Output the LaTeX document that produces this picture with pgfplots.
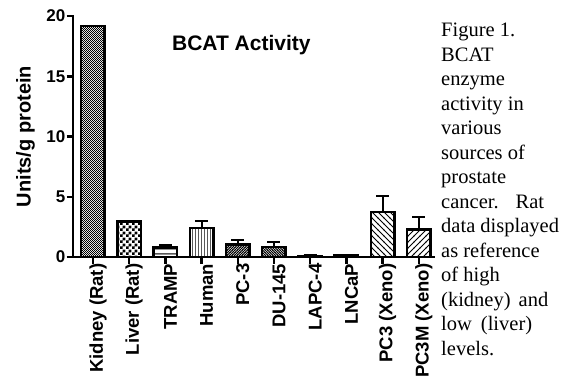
\documentclass[border=0pt]{standalone}
\usepackage{fontspec}
\setmainfont{Liberation Serif}
\newfontfamily\arial{Liberation Sans}
\usepackage{pgfplots}
\pgfplotsset{compat=1.18}
\usetikzlibrary{patterns}

\pgfdeclarepatternformonly{finechecker}{\pgfpointorigin}{\pgfpoint{2.4pt}{2.4pt}}{\pgfpoint{2.4pt}{2.4pt}}{%
  \pgfpathrectangle{\pgfpointorigin}{\pgfpoint{1.2pt}{1.2pt}}%
  \pgfpathrectangle{\pgfpoint{1.2pt}{1.2pt}}{\pgfpoint{1.2pt}{1.2pt}}%
  \pgfusepath{fill}}
\pgfdeclarepatternformonly{bigchecker}{\pgfpointorigin}{\pgfpoint{6pt}{6pt}}{\pgfpoint{6pt}{6pt}}{%
  \pgfpathrectangle{\pgfpointorigin}{\pgfpoint{3pt}{3pt}}%
  \pgfpathrectangle{\pgfpoint{3pt}{3pt}}{\pgfpoint{3pt}{3pt}}%
  \pgfusepath{fill}}
\pgfdeclarepatternformonly{hlineswide}{\pgfpointorigin}{\pgfpoint{1pt}{5pt}}{\pgfpoint{1pt}{5pt}}{%
  \pgfpathrectangle{\pgfpoint{0pt}{1.5pt}}{\pgfpoint{1pt}{1.6pt}}%
  \pgfusepath{fill}}
\pgfdeclarepatternformonly{vlinesfine}{\pgfpointorigin}{\pgfpoint{3pt}{1pt}}{\pgfpoint{3pt}{1pt}}{%
  \pgfpathrectangle{\pgfpointorigin}{\pgfpoint{1pt}{1pt}}%
  \pgfusepath{fill}}
\pgfdeclarepatternformonly{nefine}{\pgfpoint{-1pt}{-1pt}}{\pgfpoint{3.5pt}{3.5pt}}{\pgfpoint{2.5pt}{2.5pt}}{%
  \pgfsetlinewidth{0.8pt}%
  \pgfpathmoveto{\pgfpoint{-0.5pt}{-0.5pt}}\pgfpathlineto{\pgfpoint{3pt}{3pt}}%
  \pgfusepath{stroke}}
\pgfdeclarepatternformonly{nwfine}{\pgfpoint{-1pt}{-1pt}}{\pgfpoint{3.5pt}{3.5pt}}{\pgfpoint{2.5pt}{2.5pt}}{%
  \pgfsetlinewidth{0.8pt}%
  \pgfpathmoveto{\pgfpoint{-0.5pt}{3pt}}\pgfpathlineto{\pgfpoint{3pt}{-0.5pt}}%
  \pgfusepath{stroke}}
\pgfdeclarepatternformonly{newide}{\pgfpoint{-1pt}{-1pt}}{\pgfpoint{7pt}{7pt}}{\pgfpoint{6pt}{6pt}}{%
  \pgfsetlinewidth{1pt}%
  \pgfpathmoveto{\pgfpoint{-0.5pt}{-0.5pt}}\pgfpathlineto{\pgfpoint{6.5pt}{6.5pt}}%
  \pgfusepath{stroke}}
\pgfdeclarepatternformonly{nwwide}{\pgfpoint{-1pt}{-1pt}}{\pgfpoint{7pt}{7pt}}{\pgfpoint{6pt}{6pt}}{%
  \pgfsetlinewidth{1pt}%
  \pgfpathmoveto{\pgfpoint{-0.5pt}{6.5pt}}\pgfpathlineto{\pgfpoint{6.5pt}{-0.5pt}}%
  \pgfusepath{stroke}}

\pgfplotstableread{
x  y     err
0  19.15 0
1  2.95  0
2  0.80  0.20
3  2.40  0.55
4  1.05  0.33
5  0.85  0.36
6  0.10  0.04
7  0.15  0.04
8  3.75  1.30
9  2.30  1.00
}\bcat

\begin{document}
\begin{tikzpicture}
\useasboundingbox (0,0) rectangle (577pt,380pt);
\begin{axis}[
  at={(73pt,123pt)}, anchor=south west,
  scale only axis, width=361pt, height=241pt,
  xmin=-0.552, xmax=9.42, ymin=0, ymax=20,
  axis x line=bottom, axis y line=left,
  axis line style={-, line width=2.5pt, line cap=rect},
  ytick={0,5,10,15,20},
  xtick={0,...,9},
  xticklabels={Kidney (Rat), Liver (Rat), TRAMP, Human, PC-3, DU-145, LAPC-4, LNCaP, PC3 (Xeno), PC3M (Xeno)},
  x tick label style={rotate=90, anchor=east, inner sep=0pt, yshift=-5pt,
    font=\arial\bfseries\fontsize{18.5}{19}\selectfont},
  yticklabel style={inner sep=0pt, xshift=-1pt,
    font=\arial\bfseries\fontsize{17}{17}\selectfont},
  /pgf/number format/assume math mode=true,
  tick align=outside, major tick length=6.5pt,
  tick style={line width=2.5pt, black},
  ylabel={Units/g protein},
  ylabel style={at={(axis description cs:0,0.5)}, anchor=south, inner sep=0pt,
    yshift=38pt, font=\arial\bfseries\fontsize{20}{20}\selectfont},
  ybar, bar width=23.5pt, bar shift=0pt,
  every axis plot/.append style={draw=black, line width=2.5pt},
  error bars/error bar style={line width=2pt, black},
  error bars/error mark options={rotate=90, mark size=6.5pt, line width=2pt, black},
  clip=false,
]
\addplot[pattern=finechecker] table[x=x, y=y, skip coords between index={1}{10}] {\bcat};
\addplot[pattern=bigchecker] table[x=x, y=y, skip coords between index={0}{1}, skip coords between index={2}{10}] {\bcat};
\addplot[pattern=hlineswide, error bars/y dir=plus, error bars/y explicit] table[x=x, y=y, y error=err, skip coords between index={0}{2}, skip coords between index={3}{10}] {\bcat};
\addplot[pattern=vlinesfine, error bars/y dir=plus, error bars/y explicit] table[x=x, y=y, y error=err, skip coords between index={0}{3}, skip coords between index={4}{10}] {\bcat};
\addplot[pattern=nefine, error bars/y dir=plus, error bars/y explicit] table[x=x, y=y, y error=err, skip coords between index={0}{4}, skip coords between index={5}{10}] {\bcat};
\addplot[pattern=nwfine, error bars/y dir=plus, error bars/y explicit] table[x=x, y=y, y error=err, skip coords between index={0}{5}, skip coords between index={6}{10}] {\bcat};
\addplot[fill=white, error bars/y dir=plus, error bars/y explicit] table[x=x, y=y, y error=err, skip coords between index={0}{6}, skip coords between index={7}{10}] {\bcat};
\addplot[fill=white, error bars/y dir=plus, error bars/y explicit] table[x=x, y=y, y error=err, skip coords between index={0}{7}, skip coords between index={8}{10}] {\bcat};
\addplot[pattern=nwwide, error bars/y dir=plus, error bars/y explicit] table[x=x, y=y, y error=err, skip coords between index={0}{8}, skip coords between index={9}{10}] {\bcat};
\addplot[pattern=newide, error bars/y dir=plus, error bars/y explicit] table[x=x, y=y, y error=err, skip coords between index={0}{9}] {\bcat};
\node[anchor=west, inner sep=0pt, font=\arial\bfseries\fontsize{21}{21}\selectfont] at (axis cs:2.18,17.6) {BCAT Activity};
\end{axis}
\node[anchor=north west, align=left, inner sep=0pt, font=\fontsize{20.5}{24.5}\selectfont] at (441pt,357pt)
{Figure 1.\\BCAT\\enzyme\\activity in\\various\\sources of\\prostate\\cancer.\hspace{17pt}Rat\\data displayed\\as reference\\of high\\(kidney)\hspace{8pt}and\\low\hspace{9pt}(liver)\\levels.};
\end{tikzpicture}
\end{document}
